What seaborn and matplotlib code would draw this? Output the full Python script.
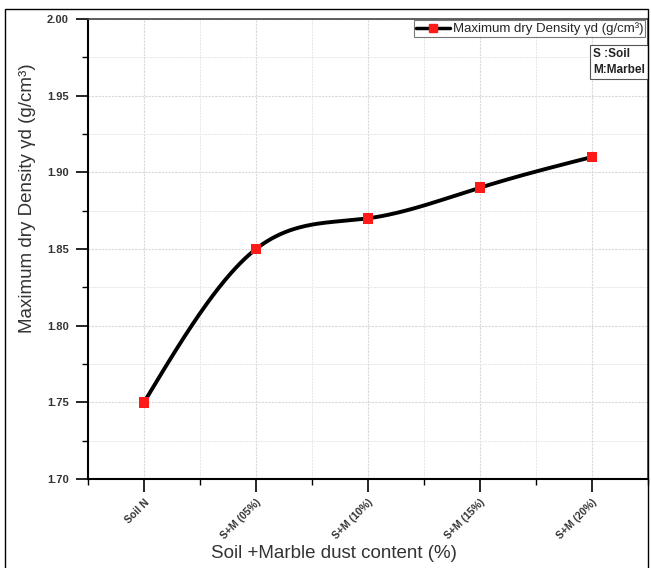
import numpy as np
import pandas as pd
import seaborn as sns
import matplotlib
matplotlib.use("Agg")
import matplotlib.pyplot as plt
from matplotlib.ticker import MultipleLocator
from matplotlib.lines import Line2D
from matplotlib.patches import Rectangle

categories = ["Soil N", "S+M (05%)", "S+M (10%)", "S+M (15%)", "S+M (20%)"]
density = [1.75, 1.85, 1.87, 1.89, 1.91]
y_ticks = [1.70, 1.75, 1.80, 1.85, 1.90, 1.95, 2.00]

sns.set_theme(style="white")
plt.rcParams['font.family'] = ['Liberation Sans', 'DejaVu Sans']

df = pd.DataFrame({"pos": np.arange(len(categories)), "density": density})

# natural cubic spline for the smooth connecting curve
def natural_spline(x, y, xs):
    x = np.asarray(x, float); y = np.asarray(y, float)
    n = len(x)
    h = np.diff(x)
    A = np.zeros((n, n)); b = np.zeros(n)
    A[0, 0] = 1; A[-1, -1] = 1
    for i in range(1, n - 1):
        A[i, i - 1] = h[i - 1]; A[i, i] = 2 * (h[i - 1] + h[i]); A[i, i + 1] = h[i]
        b[i] = 3 * ((y[i + 1] - y[i]) / h[i] - (y[i] - y[i - 1]) / h[i - 1])
    c = np.linalg.solve(A, b)
    out = np.empty_like(xs)
    for k, xv in enumerate(xs):
        i = min(np.searchsorted(x, xv, side='right') - 1, n - 2)
        i = max(i, 0)
        dx = xv - x[i]
        bb = (y[i + 1] - y[i]) / h[i] - h[i] * (2 * c[i] + c[i + 1]) / 3
        d = (c[i + 1] - c[i]) / (3 * h[i])
        out[k] = y[i] + bb * dx + c[i] * dx ** 2 + d * dx ** 3
    return out

xs = np.linspace(0, len(categories) - 1, 300)
curve = pd.DataFrame({"pos": xs, "density": natural_spline(df["pos"], df["density"], xs)})

fig = plt.figure(figsize=(6.51, 5.68), dpi=100)
ax = fig.add_axes([88/651, 1 - 479/568, 560/651, 460/568])

# outer frame
fig.patches.append(Rectangle((5/651, -0.01), 643/651, 1 - 9/568 + 0.01, transform=fig.transFigure,
                             fill=False, edgecolor="black", linewidth=1.0, zorder=0))

sns.lineplot(data=curve, x="pos", y="density", ax=ax, color="black", linewidth=2.8,
             zorder=3, legend=False)
sns.scatterplot(data=df, x="pos", y="density", ax=ax, color="#ff1a1a", marker="s", s=60,
                edgecolor="none", zorder=4, legend=False)

ax.set_xlim(-0.5, len(categories) - 0.5)
ax.set_ylim(1.70, 2.00)
ax.set_xticks(range(len(categories)))
ax.set_xticklabels(categories, rotation=45, ha="right", rotation_mode="anchor",
                   fontsize=7.5, fontweight="bold", color="#333333")
ax.set_yticks(y_ticks)
ax.set_yticklabels([f"{v:.2f}" for v in y_ticks], fontsize=8, fontweight="bold", color="#333333")
ax.xaxis.set_minor_locator(MultipleLocator(0.5))
ax.yaxis.set_minor_locator(MultipleLocator(0.025))
ax.tick_params(axis="both", which="major", direction="out", length=9, width=1.2, color="black",
               bottom=True, left=True, pad=5)
ax.tick_params(axis="x", which="major", pad=4)
ax.tick_params(axis="both", which="minor", direction="out", length=4, width=1.0, color="black",
               bottom=True, left=True)
ax.grid(which="major", color="#d9d9d9", linestyle=(0, (2, 1)), linewidth=0.8)
ax.grid(which="minor", color="#e6e6e6", linestyle=(0, (2, 1)), linewidth=0.7)
ax.set_axisbelow(True)

for side in ["left", "bottom"]:
    ax.spines[side].set_color("black"); ax.spines[side].set_linewidth(1.5)
for side in ["top", "right"]:
    ax.spines[side].set_color("#444444"); ax.spines[side].set_linewidth(1.2)

ax.set_xlabel("Soil +Marble dust content (%)", fontsize=13.5, color="#333333")
ax.xaxis.set_label_coords(0.44, -0.143)
ax.set_ylabel("Maximum dry Density γd (g/cm³)", fontsize=13.5, color="#333333")
ax.yaxis.set_label_coords(-0.093, 0.61)

handle = Line2D([], [], color="black", linewidth=2.5, marker="s", markersize=6,
                markerfacecolor="#ff1a1a", markeredgecolor="#ff1a1a")
leg = ax.legend([handle], ["Maximum dry Density γd (g/cm³)"], loc="upper right",
                bbox_to_anchor=(0.997, 1.0), fontsize=9.5, frameon=True, fancybox=False,
                borderpad=0.15, handlelength=2.6, handletextpad=0.2, borderaxespad=0.1)
leg.get_frame().set_edgecolor("#555555")
leg.get_frame().set_linewidth(0.8)

ax.text(0.9945, 0.937, "S :Soil\nM:Marbel", transform=ax.transAxes, ha="right", va="top",
        fontsize=8.5, fontweight="bold", color="#222222", linespacing=1.45, multialignment="left",
        bbox=dict(boxstyle="square,pad=0.25", facecolor="white", edgecolor="#555555", linewidth=0.8))

fig.savefig("out.png", dpi=100)
